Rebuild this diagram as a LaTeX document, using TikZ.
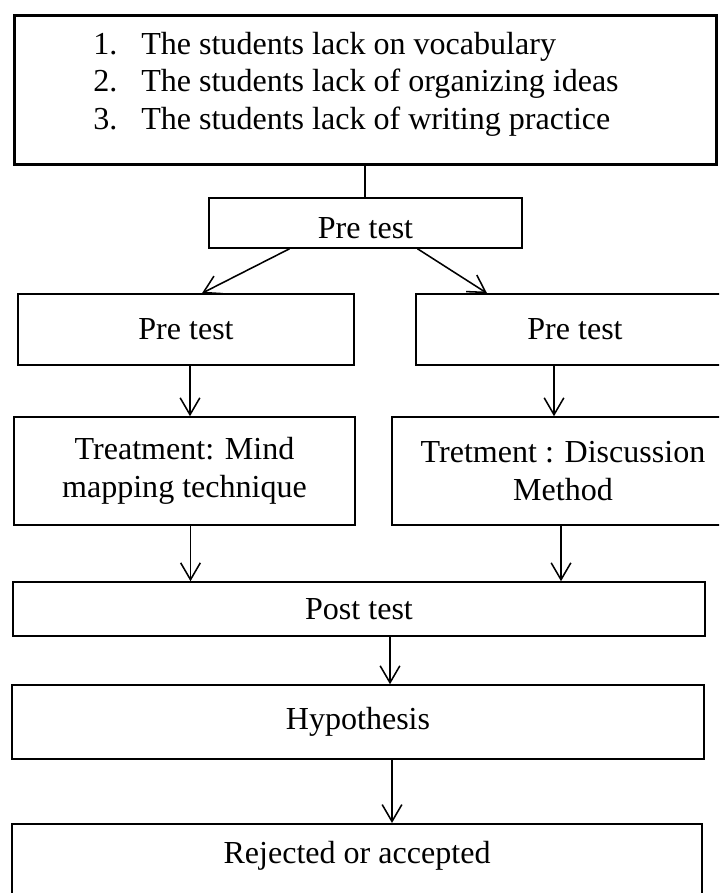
\documentclass[tikz,border=0pt]{standalone}
\usepackage{fontspec}
\setmainfont{Liberation Serif}
\usetikzlibrary{arrows.meta, positioning, calc}
\tikzset{
    box/.style = {rectangle, draw=black, line width=1.1pt, align=center, inner sep=0pt, font=\fontsize{22.8}{26.7}\selectfont},
    listbox/.style = {box, line width=1.8pt, align=left},
    link/.style = {line width=1.1pt},
    arrow/.style = {line width=1.1pt, -{Straight Barb[length=12pt, width=14pt]}}
}

\begin{document}
\begin{tikzpicture}
\path[use as bounding box, clip] (0,0) rectangle (17.975,-22.325);

\node[listbox, anchor=north west, minimum width=17.55cm, text width=13.6cm, inner xsep=1.975cm, text height=0.975cm, text depth=2.75cm] (problems) at (0.325,-0.35) {\spaceskip=0pt\xspaceskip=0pt%
\makebox[1.2cm][l]{1.}The students lack on vocabulary\\
\makebox[1.2cm][l]{2.}The students lack of organizing ideas\\
\makebox[1.2cm][l]{3.}The students lack of writing practice};

\node[box, minimum width=7.825cm, minimum height=1.25cm, text height=0.8cm, text depth=0cm] (pre) at (9.1375,-5.575) {Pre test};
\draw[link] (problems.south) -- (problems.south |- pre.north);

\node[box, minimum width=8.4cm, minimum height=1.775cm] (preL) at (4.65,-8.2375) {Pre test};
\node[box, minimum width=7.95cm, minimum height=1.775cm] (preR) at (14.375,-8.2375) {Pre test};
\draw[arrow] ([xshift=-1.9cm]pre.south) -- ([xshift=0.4cm]preL.north);
\draw[arrow] ([xshift=1.3cm]pre.south) -- ([xshift=-2.2cm]preR.north);

\node[box, minimum width=8.525cm, minimum height=2.7cm] (treatL) at (4.6125,-11.775) {Treatment: Mind\\mapping technique};
\node[box, minimum width=8.55cm, minimum height=2.7cm] (treatR) at (14.075,-11.775) {Tretment : Discussion\\Method};
\draw[arrow] ([xshift=0.1cm]preL.south) -- ([xshift=0.1cm]preL.south |- treatL.north);
\draw[arrow] ([xshift=-0.525cm]preR.south) -- ([xshift=-0.525cm]preR.south |- treatR.north);

\node[box, minimum width=17.3cm, minimum height=1.35cm] (post) at (8.975,-15.225) {Post test};
\draw[arrow] ([xshift=0.15cm]treatL.south) -- ([xshift=0.15cm]treatL.south |- post.north);
\draw[arrow] ([xshift=-0.05cm]treatR.south) -- ([xshift=-0.05cm]treatR.south |- post.north);

\node[box, minimum width=17.3cm, minimum height=1.85cm] (hyp) at (8.95,-18.05) {Hypothesis};
\draw[arrow] ([xshift=0.775cm]post.south) -- ([xshift=0.775cm]post.south |- hyp.north);

\node[box, anchor=north, minimum width=17.25cm, text height=1cm, text depth=2cm] (rej) at (8.925,-20.575) {Rejected or accepted};
\draw[arrow] ([xshift=0.85cm]hyp.south) -- ([xshift=0.85cm]hyp.south |- rej.north);

\end{tikzpicture}
\end{document}
